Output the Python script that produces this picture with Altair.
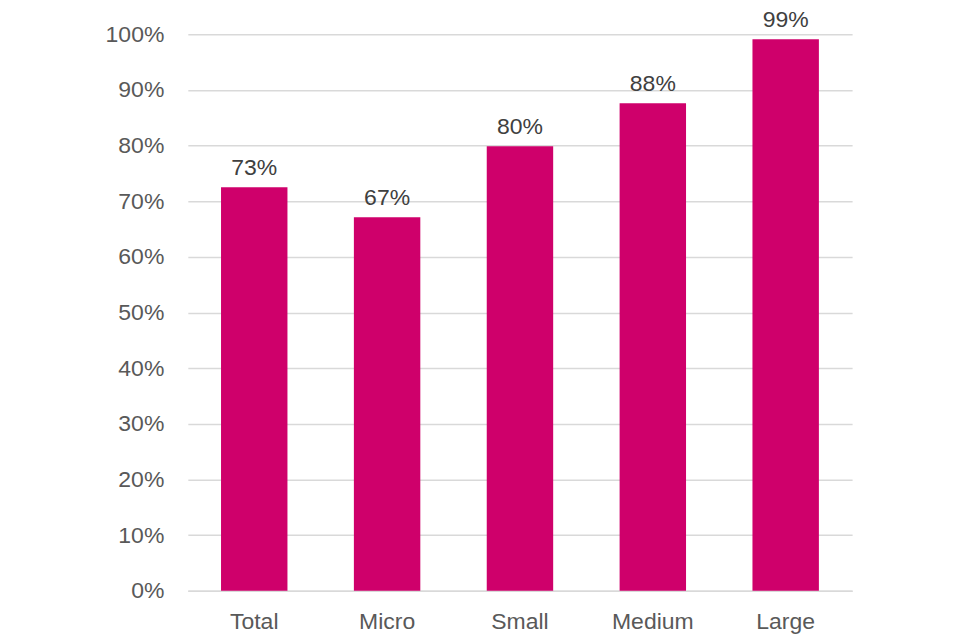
import altair as alt
import pandas as pd

categories = ["Total", "Micro", "Small", "Medium", "Large"]
values = [0.725, 0.671, 0.799, 0.876, 0.991]
labels = ["73%", "67%", "80%", "88%", "99%"]

df = pd.DataFrame({"cat": categories, "val": values, "lab": labels})

FONT = "Liberation Sans"

base = alt.Chart(df).encode(
    x=alt.X("cat:N", sort=categories, title=None,
            scale=alt.Scale(paddingInner=0.5, paddingOuter=0.25),
            axis=alt.Axis(labelAngle=0, labelFontSize=23, labelColor="#595959",
                          labelFont=FONT, labelPadding=20, ticks=False,
                          domainColor="#D9D9D9", domainWidth=1.5, grid=False)),
    y=alt.Y("val:Q", title=None,
            scale=alt.Scale(domain=[0, 1], nice=False),
            axis=alt.Axis(format=".0%", values=[i / 10 for i in range(11)],
                          labelFontSize=23, labelColor="#595959", labelFont=FONT,
                          labelPadding=24, ticks=False, domain=False,
                          gridColor="#D9D9D9", gridWidth=1.5)),
)

bars = base.mark_bar(color="#CF006B")
text = base.mark_text(baseline="bottom", dy=-7, fontSize=23, color="#404040", font=FONT).encode(
    text="lab:N")

chart = (bars + text).properties(
    width=665, height=557,
    autosize=alt.AutoSizeParams(type="none"),
    padding={"left": 180, "top": 26, "right": 100, "bottom": 50},
).configure_view(stroke=None)

chart.save("out.html", embed_options={"renderer": "svg", "actions": False})
